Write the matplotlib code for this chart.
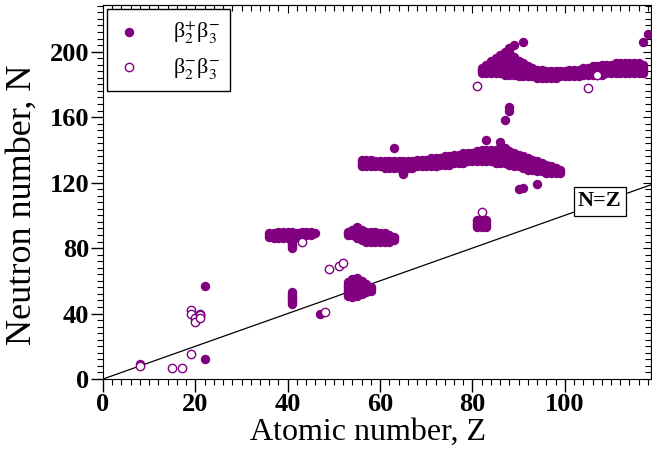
import matplotlib
matplotlib.use("Agg")
import matplotlib.pyplot as plt
from matplotlib.ticker import MultipleLocator

plt.rcParams["font.family"] = ["Liberation Serif", "DejaVu Serif"]
plt.rcParams["mathtext.fontset"] = "stix"

PURPLE = "#800080"

# beta2+ beta3- : contiguous runs of nuclei, (Z, N_low, N_high)
plus_runs = [
    # N ~ 87 region
    (36, 87, 89), (37, 86, 89), (38, 86, 90), (39, 86, 90), (40, 86, 90),
    (41, 80, 90), (42, 87, 89), (43, 87, 90), (44, 88, 90), (45, 88, 90),
    (46, 89, 89),
    # N ~ 87, Z 53-63
    (53, 88, 90), (54, 88, 91), (55, 86, 93), (56, 85, 91), (57, 84, 90),
    (58, 84, 90), (59, 84, 90), (60, 84, 89), (61, 84, 89), (62, 84, 88),
    (63, 85, 87),
    # N ~ 55 blob
    (53, 51, 59), (54, 50, 61), (55, 51, 62), (56, 52, 60), (57, 53, 58),
    (58, 54, 56),
    # below N=Z near Z 82
    (41, 46, 53), (81, 93, 97), (82, 93, 98), (83, 93, 97),
    # N ~ 130 band
    (56, 130, 134), (57, 130, 134), (58, 130, 134), (59, 130, 133),
    (60, 130, 133), (61, 129, 133), (62, 129, 133), (63, 129, 133),
    (64, 129, 133), (65, 125, 133), (66, 129, 133), (67, 129, 133),
    (68, 130, 134), (69, 130, 134), (70, 130, 134), (71, 130, 135),
    (72, 130, 135), (73, 131, 135), (74, 131, 136), (75, 131, 136),
    (76, 132, 137), (77, 132, 137), (78, 132, 138), (79, 133, 138),
    (80, 133, 138), (81, 133, 139), (82, 133, 140), (83, 133, 140),
    (84, 133, 140), (85, 132, 140), (86, 132, 141), (87, 132, 141),
    (88, 131, 139), (89, 130, 138), (90, 130, 137), (91, 129, 136),
    (92, 128, 135), (93, 128, 134), (94, 127, 133), (95, 127, 132),
    (96, 126, 131), (97, 126, 130), (98, 126, 129), (99, 126, 128),
    # N ~ 190 band
    (82, 187, 190), (83, 187, 192), (84, 187, 194), (85, 187, 196),
    (86, 187, 198), (87, 186, 200), (88, 186, 202), (89, 186, 197),
    (90, 185, 194), (91, 185, 193), (92, 185, 191), (93, 185, 190),
    (94, 184, 189), (95, 184, 189), (96, 184, 188), (97, 184, 188),
    (98, 184, 188), (99, 185, 188), (100, 185, 188), (101, 185, 189),
    (102, 185, 189), (103, 185, 189), (104, 186, 190), (105, 186, 190),
    (106, 186, 191), (107, 186, 191), (108, 186, 192), (109, 187, 192),
    (110, 187, 192), (111, 187, 193), (112, 187, 193), (113, 187, 193),
    (114, 187, 193), (115, 187, 193), (116, 187, 193), (117, 187, 192),
]

# isolated beta2+ beta3- nuclei
plus_z = [8, 22, 22, 20, 21, 21, 47, 90, 91, 94, 63, 72, 83, 86, 87, 88, 88,
          89, 91, 117, 118]
plus_n = [9, 12, 57, 36, 38, 39, 40, 116, 117, 119, 141, 130, 146, 145, 158,
          164, 166, 204, 206, 206, 211]

# beta2- beta3-
minus_z = [8, 15, 17, 19, 19, 19, 20, 20, 21, 21, 21, 43, 48, 49, 51, 52, 82,
           81, 105, 107]
minus_n = [8, 7, 7, 15, 42, 40, 37, 35, 40, 39, 37, 84, 41, 67, 69, 71, 102,
           179, 178, 186]


def expand_runs(runs):
    zs, ns = [], []
    for z, lo, hi in runs:
        for n in range(lo, hi + 1):
            zs.append(z)
            ns.append(n)
    return zs, ns


fig = plt.figure(figsize=(6.52, 4.55), dpi=100)
ax = fig.add_axes([0.158, 0.167, 0.840, 0.822])

run_z, run_n = expand_runs(plus_runs)
ax.scatter(run_z + plus_z, run_n + plus_n, s=46, color=PURPLE, lw=0,
           zorder=3, label="β$_2^{+}$β$_3^{-}$")
ax.scatter(minus_z, minus_n, s=36, facecolor="white", edgecolor=PURPLE,
           lw=1.0, zorder=4, label="β$_2^{-}$β$_3^{-}$")

ax.plot([0, 130], [0, 130], color="black", lw=0.9, zorder=2)
ax.text(107.6, 108.5, "N=Z", fontsize=16, fontweight="bold", ha="center",
        va="center", zorder=5,
        bbox=dict(boxstyle="square,pad=0.2", fc="white", ec="black", lw=0.9))

ax.set_xlim(0, 118.6)
ax.set_ylim(0, 228.5)
ax.xaxis.set_major_locator(MultipleLocator(20))
ax.xaxis.set_minor_locator(MultipleLocator(2))
ax.yaxis.set_major_locator(MultipleLocator(40))
ax.yaxis.set_minor_locator(MultipleLocator(4))
ax.tick_params(which="major", direction="out", length=9, width=1, pad=1,
               labelsize=19)
ax.tick_params(which="minor", direction="out", length=4.5, width=0.8)
for lab in ax.get_xticklabels() + ax.get_yticklabels():
    lab.set_fontweight("bold")

# inward ticks on top and right
top = ax.secondary_xaxis("top")
top.xaxis.set_major_locator(MultipleLocator(20))
top.xaxis.set_minor_locator(MultipleLocator(2))
top.tick_params(which="both", direction="in", labeltop=False)
top.tick_params(which="major", length=6)
top.tick_params(which="minor", length=4, width=0.8)
right = ax.secondary_yaxis("right")
right.yaxis.set_major_locator(MultipleLocator(40))
right.yaxis.set_minor_locator(MultipleLocator(4))
right.tick_params(which="both", direction="in", labelright=False)
right.tick_params(which="major", length=6)
right.tick_params(which="minor", length=4, width=0.8)

ax.set_xlabel("Atomic number, Z", fontsize=23)
ax.xaxis.set_label_coords(0.484, -0.105)
ax.set_ylabel("Neutron number, N", fontsize=26)
ax.yaxis.set_label_coords(-0.118, 0.465)

leg = ax.legend(loc="upper left", fontsize=16, frameon=True, fancybox=False,
                edgecolor="black", framealpha=1, borderaxespad=0.2,
                handlelength=1.0, handletextpad=1.5, labelspacing=0.45,
                borderpad=0.45, markerscale=1.0)
leg.get_frame().set_linewidth(1.0)

fig.savefig("out.png", dpi=100)
